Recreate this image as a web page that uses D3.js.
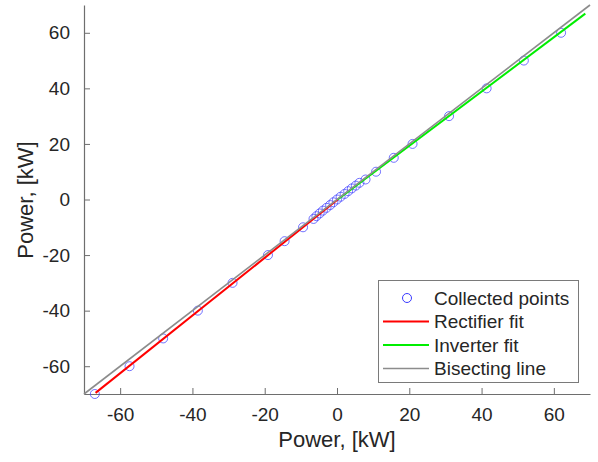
<!DOCTYPE html>
<html><head><meta charset="utf-8">
<script src="https://cdn.jsdelivr.net/npm/d3@7"></script>
<style>body{margin:0;background:#fff}svg{display:block}</style>
</head><body>
<svg id="c" width="598" height="462"></svg>
<script>
const tickValues = [-60,-40,-20,0,20,40,60];
const pointsX = [-67,-57.4,-48.1,-38.5,-28.9,-19.1,-14.5,-9.4,-6.5,-5.7,-4.8,-3.9,-2.9,-1.9,-1.0,0,1.0,2.1,3.1,4.1,5.2,6.2,7.9,10.8,15.7,20.9,31.0,41.4,51.7,62.0];
const pointsY = [-70,-60,-50,-40,-30,-20,-15,-10,-7,-6,-5,-4,-3,-2,-1,0,1,2,3,4,5,6,7.2,10,15,20,30,40,50,60];
const rectX = [-66.8, 0.2];
const rectY = [-69.6, 0.0];
const invX = [0.2, 68.7];
const invY = [0.0, 66.9];
const bisX = [-70, 70];
const bisY = [-70, 70];
const legendLabels = ["Collected points","Rectifier fit","Inverter fit","Bisecting line"];
const legendColors = ["#0000ff","#ff0000","#00ee00","#8c8c8c"];

const svg = d3.select("#c");
const x = d3.scaleLinear().domain([-70,70]).range([84,590]);
const y = d3.scaleLinear().domain([-70,70]).range([394,5]);
const font = "'Liberation Sans', Arial, Helvetica, sans-serif";
const axisColor = "#6e6e6e";
const textColor = "#262626";
const fmt = d => String(d);

// axes
const xAxis = d3.axisBottom(x).tickValues(tickValues).tickFormat(fmt).tickSizeInner(-6).tickSizeOuter(0).tickPadding(14);
const yAxis = d3.axisLeft(y).tickValues(tickValues).tickFormat(fmt).tickSizeInner(-6).tickSizeOuter(0).tickPadding(14);
const gx = svg.append("g").attr("transform",`translate(0,${y(-70)})`).call(xAxis);
const gy = svg.append("g").attr("transform",`translate(${x(-70)},0)`).call(yAxis);
[gx,gy].forEach(g=>{
  g.select(".domain").attr("stroke",axisColor).attr("stroke-width",1.2);
  g.selectAll(".tick line").attr("stroke",axisColor).attr("stroke-width",1);
  g.selectAll(".tick text").attr("fill",textColor).style("font-family",font).style("font-size","19px");
});
gx.selectAll(".tick text").attr("dy","0.71em");

// axis labels
svg.append("text").attr("x",337).attr("y",447).attr("text-anchor","middle")
  .style("font-family",font).style("font-size","22px").attr("fill",textColor).text("Power, [kW]");
svg.append("text").attr("transform",`translate(33,200) rotate(-90)`).attr("text-anchor","middle")
  .style("font-family",font).style("font-size","22px").attr("fill",textColor).text("Power, [kW]");

const line = d3.line().x(d=>x(d[0])).y(d=>y(d[1]));

// points
svg.append("g").selectAll("circle").data(d3.zip(pointsX,pointsY)).join("circle")
  .attr("cx",d=>x(d[0])).attr("cy",d=>y(d[1])).attr("r",4.5)
  .attr("fill","none").attr("stroke","#3a3aff").attr("stroke-width",0.9).attr("stroke-opacity",0.8);

svg.append("path").attr("d",line(d3.zip(rectX,rectY))).attr("stroke",legendColors[1]).attr("stroke-width",2).attr("fill","none");
svg.append("path").attr("d",line(d3.zip(invX,invY))).attr("stroke",legendColors[2]).attr("stroke-width",2).attr("fill","none");
svg.append("path").attr("d",line(d3.zip(bisX,bisY))).attr("stroke",legendColors[3]).attr("stroke-width",1.6).attr("fill","none");

// legend
const lg = svg.append("g");
lg.append("rect").attr("x",378.5).attr("y",280.5).attr("width",200).attr("height",102)
  .attr("fill","#fff").attr("stroke","#7a7a7a").attr("stroke-width",1);
legendLabels.forEach((t,i)=>{
  const cy = 298 + i*23.5;
  if(i===0){
    lg.append("circle").attr("cx",407).attr("cy",cy).attr("r",4.5).attr("fill","none")
      .attr("stroke","#3a3aff").attr("stroke-width",1);
  } else {
    lg.append("line").attr("x1",383).attr("x2",429).attr("y1",cy).attr("y2",cy)
      .attr("stroke",legendColors[i]).attr("stroke-width",i===3?1.6:2);
  }
  lg.append("text").attr("x",434).attr("y",cy).attr("dy","0.35em")
    .style("font-family",font).style("font-size","19px").attr("fill",textColor).text(t);
});
</script>
</body></html>
